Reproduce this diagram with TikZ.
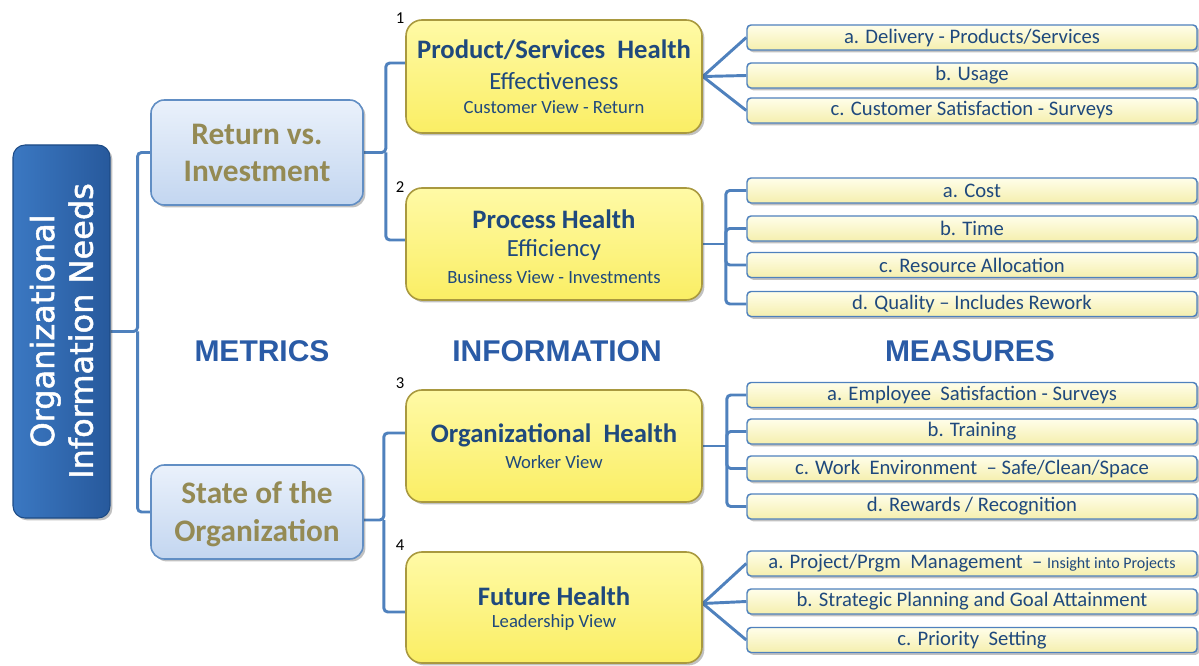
\documentclass[tikz,border=0pt]{standalone}
\usepackage{fontspec}
\setmainfont{Carlito}
\newfontfamily\headfont{Liberation Sans}
\newfontfamily\sidefont{DejaVu Sans}[FakeBold=1.5]
\usetikzlibrary{shadows,calc,backgrounds}

\definecolor{connblue}{HTML}{4F81BD}
\definecolor{textblue}{HTML}{1F497D}
\definecolor{headblue}{HTML}{2A5BA6}
\definecolor{olive}{HTML}{948A54}
\definecolor{goldedge}{HTML}{A9993F}
\definecolor{sideedge}{HTML}{1D4B85}
\definecolor{sideL}{HTML}{3B78C2}
\definecolor{sideR}{HTML}{27599C}
\definecolor{metricT}{HTML}{EAF1FB}
\definecolor{metricB}{HTML}{C3D6F0}
\definecolor{infoT}{HTML}{FFFAA6}
\definecolor{infoB}{HTML}{FAEE64}
\definecolor{measT}{HTML}{FFFEEA}
\definecolor{measB}{HTML}{F5EFAE}

\tikzset{
  conn/.style={draw=connblue, line width=2.2pt, rounded corners=3pt},
  boxshadow/.style={drop shadow={shadow xshift=1.8pt, shadow yshift=-1.8pt, opacity=0.35, fill=black!70}},
  sidebox/.style={rounded corners=9pt, draw=sideedge, line width=0.8pt,
    left color=sideL, right color=sideR, boxshadow, inner sep=0pt,
    minimum width=72.75pt, minimum height=279.75pt},
  metricbox/.style={rounded corners=10pt, draw=connblue!90, line width=1.2pt,
    top color=metricT, bottom color=metricB, boxshadow, inner sep=0pt,
    minimum width=159pt},
  metrictext/.style={align=center, text=olive, font=\fontsize{23.5}{28}\selectfont\bfseries},
  infobox/.style={rounded corners=12pt, draw=goldedge, line width=1.2pt,
    top color=infoT, bottom color=infoB, boxshadow, inner sep=0pt,
    minimum width=222pt},
  measurebox/.style={rounded corners=3pt, draw=connblue, line width=1.1pt,
    top color=measT, bottom color=measB, boxshadow, inner sep=0pt,
    minimum width=337.5pt, minimum height=18.75pt,
    text=textblue, font=\fontsize{15.5}{18}\selectfont},
  infotitle/.style={text=textblue, font=\fontsize{20}{22}\selectfont\bfseries},
  infosub/.style={text=textblue, font=\fontsize{18.5}{21}\selectfont},
  infoview/.style={text=textblue, font=\fontsize{14}{16}\selectfont},
  numlabel/.style={text=black, font=\fontsize{12.5}{14}\selectfont},
  heading/.style={text=headblue, font=\headfont\fontsize{22.5}{24}\selectfont\bfseries},
}

\begin{document}
\begin{tikzpicture}[x=0.75pt,y=-0.75pt]
\useasboundingbox (0,0) rectangle (1199,666);

% left column
\node[sidebox] (L) at (61.5,331.5) {};
\node[rotate=90, align=center, text=white, font=\sidefont\fontsize{24}{29}\selectfont] (Lt) at (61.5,331) {Organizational\\Information Needs};

% metrics
\node[metricbox, minimum height=78.75pt] (R1) at (257,152.5) {};
\node[metrictext] (R1t) at (257,153) {Return vs.\\Investment};
\node[metricbox, minimum height=70.5pt] (R2) at (257,512) {};
\node[metrictext] (R2t) at (257,514) {State of the\\Organization};

% information boxes
\node[infobox, minimum height=84.75pt] (P1) at (554,76.5) {};
\node[infotitle] (P1a) at (554,50) {Product/Services\ \ Health};
\node[infosub] (P1b) at (554,81) {Effectiveness};
\node[infoview] (P1c) at (554,107) {Customer View - Return};
\node[numlabel] (n1) at (400,18) {1};

\node[infobox, minimum height=84pt] (P2) at (554,244) {};
\node[infotitle] (P2a) at (554,219) {Process Health};
\node[infosub] (P2b) at (554,250) {Efficiency};
\node[infoview] (P2c) at (554,277) {Business View - Investments};
\node[numlabel] (n2) at (400,187) {2};

\node[infobox, minimum height=84pt] (P3) at (554,446) {};
\node[infotitle] (P3a) at (554,435) {Organizational\ \ Health};
\node[infoview] (P3c) at (554,462) {Worker View};
\node[numlabel] (n3) at (400,383) {3};

\node[infobox, minimum height=83.25pt] (P4) at (554,607.5) {};
\node[infotitle] (P4a) at (554,596) {Future Health};
\node[infoview] (P4c) at (554,623) {Leadership View};
\node[numlabel] (n4) at (400,545) {4};

% measures
\node[measurebox] (M1a) at (972,37.5) {a. Delivery - Products/Services};
\node[measurebox] (M1b) at (972,75.5) {b. Usage};
\node[measurebox] (M1c) at (972,110.5) {c. Customer Satisfaction - Surveys};

\node[measurebox] (M2a) at (972,190.5) {a. Cost};
\node[measurebox] (M2b) at (972,228.5) {b. Time};
\node[measurebox] (M2c) at (972,265) {c. Resource Allocation};
\node[measurebox] (M2d) at (972,304) {d. Quality -- Includes Rework};

\node[measurebox] (M3a) at (972,395) {a. Employee\ \ Satisfaction - Surveys};
\node[measurebox] (M3b) at (972,431.5) {b. Training};
\node[measurebox] (M3c) at (972,468.5) {c. Work\ \ Environment\ \ -- Safe/Clean/Space};
\node[measurebox] (M3d) at (972,506.5) {d. Rewards / Recognition};

\node[measurebox] (M4a) at (972,563.5) {a. Project/Prgm\ \ Management\ \ -- {\fontsize{12}{14}\selectfont Insight into Projects}};
\node[measurebox] (M4b) at (972,601.5) {b. Strategic Planning and Goal Attainment};
\node[measurebox] (M4c) at (972,640) {c. Priority\ \ Setting};

% column headings
\node[heading] (h1) at (262,351) {METRICS};
\node[heading] (h2) at (557,351) {INFORMATION};
\node[heading] (h3) at (970,351) {MEASURES};

% connectors
\begin{scope}[on background layer]
  \coordinate (j0) at ($(L.east)+(27,0)$);
  \draw[conn] (L.east) -- (j0) |- (R1.west);
  \draw[conn] (j0) |- (R2.west);

  \coordinate (j1) at ($(R1.east)+(22,0)$);
  \draw[conn] (R1.east) -- (j1) |- ($(P1.west)+(0,-13.5)$);
  \draw[conn] (j1) |- ($(P2.west)+(0,-4)$);

  \coordinate (j2) at ($(R2.east)+(20,8)$);
  \draw[conn] ($(R2.east)+(0,8)$) -- (j2) |- ($(P3.west)+(0,-13)$);
  \draw[conn] (j2) |- ($(P4.west)+(0,4.5)$);

  \foreach \m in {M1a,M1b,M1c} \draw[conn] (P1.east) -- (\m.west);

  \coordinate (j3) at ($(P2.east)+(23,0)$);
  \draw[conn] (P2.east) -- (j3);
  \foreach \m in {M2a,M2b,M2c,M2d} \draw[conn] (j3) |- (\m.west);

  \coordinate (j4) at ($(P3.east)+(24,0)$);
  \draw[conn] (P3.east) -- (j4);
  \foreach \m in {M3a,M3b,M3c,M3d} \draw[conn] (j4) |- (\m.west);

  \foreach \m in {M4a,M4b,M4c} \draw[conn] ($(P4.east)+(0,-4)$) -- (\m.west);
\end{scope}
\end{tikzpicture}
\end{document}
